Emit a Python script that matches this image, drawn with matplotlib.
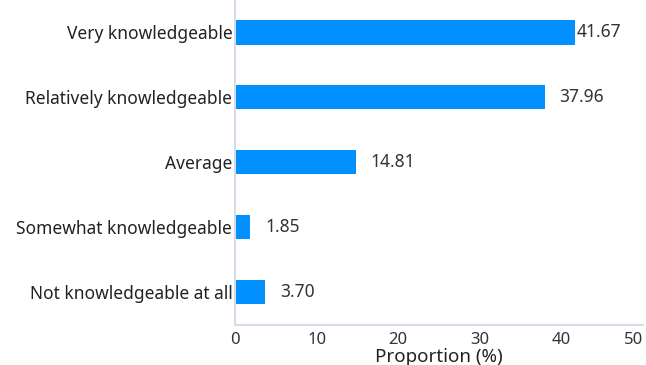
import matplotlib
matplotlib.use('Agg')
import matplotlib.pyplot as plt

# Self-rated knowledge levels and their share of respondents
categories = ['Very knowledgeable', 'Relatively knowledgeable', 'Average',
              'Somewhat knowledgeable', 'Not knowledgeable at all']
proportions = [41.67, 37.96, 14.81, 1.85, 3.70]
value_labels = ['41.67', '37.96', '14.81', '1.85', '3.70']
x_ticks = [0, 10, 20, 30, 40, 50]

plt.rcParams['font.family'] = ['Noto Sans', 'DejaVu Sans']

fig = plt.figure(figsize=(6.46, 3.65), dpi=100)
ax = fig.add_axes([0.364, 0.11, 0.631, 0.89])

ypos = list(range(len(categories)))
ax.barh(ypos, proportions, height=0.37, color='#0090ff')
ax.set_ylim(len(categories) - 0.5, -0.5)
ax.set_xlim(0, 50)

ax.set_yticks(ypos)
ax.set_yticklabels(categories, fontsize=12.5, color='#222222')
ax.set_xticks(x_ticks)
ax.set_xticklabels([str(t) for t in x_ticks], fontsize=12, color='#333333')
ax.get_xticklabels()[-1].set_horizontalalignment('right')
ax.tick_params(axis='both', length=0, pad=2)
ax.tick_params(axis='x', pad=5)

# value labels next to each bar
for i, (v, lab) in enumerate(zip(proportions, value_labels)):
    pad = 2 if v == max(proportions) else 15
    ax.annotate(lab, (v, i), xytext=(pad, 0), textcoords='offset pixels',
                va='center', ha='left', fontsize=12.5, color='#333333')

for side in ['top', 'right']:
    ax.spines[side].set_visible(False)
for side in ['left', 'bottom']:
    ax.spines[side].set_color('#d5dbe8')
    ax.spines[side].set_linewidth(1.5)

ax.set_xlabel('Proportion (%)', fontsize=13.5, color='#222222', labelpad=0)

plt.savefig('out.png', dpi=100)
